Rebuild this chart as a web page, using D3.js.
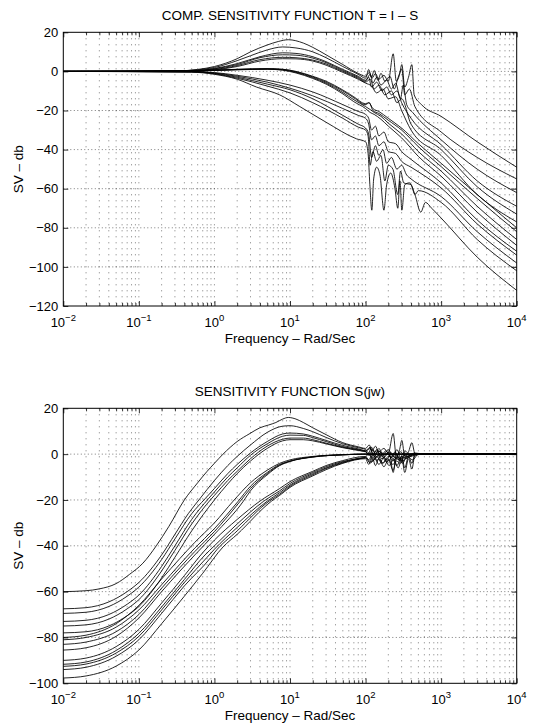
<!DOCTYPE html>
<html><head><meta charset="utf-8">
<script src="https://cdn.jsdelivr.net/npm/d3@7"></script>
<style>
body{margin:0;background:#fff}
svg{display:block}
text{font-family:"Liberation Sans",Arial,Helvetica,sans-serif;fill:#000}
</style>
</head><body>
<svg id="c" width="536" height="727"></svg>
<script>
// ---------- tick values / labels ----------
const freqMajor = [1e-2, 1e-1, 1e0, 1e1, 1e2, 1e3, 1e4];
const freqExp = ["\u22122", "\u22121", "0", "1", "2", "3", "4"];
const tTicks = [-120, -100, -80, -60, -40, -20, 0, 20];
const sTicks = [-100, -80, -60, -40, -20, 0, 20];

// ---------- complementary sensitivity T = I - S  ([rad/s, dB]) ----------
const tUpper = [
 [[0.01,0],[0.3,0.2],[0.6,1],[1,2.5],[2,6.5],[3,10],[5,13.5],[7,15.3],[9.5,16.2],[15,14.5],[20,12.3],[30,8.5],[50,3.5],[80,-1],[100,-2.5],[112,-0.5],[122,-3.5],[135,-1],[150,-4],[175,-2],[200,-5],[232,9],[255,-5],[280,-2],[302,3.5],[330,-8],[370,-3],[410,3.5],[440,-12],[550,-17],[1000,-23],[3000,-36],[10000,-49]],
 [[0.01,0],[0.3,0.2],[0.6,0.8],[1,2],[2,5.5],[3,8],[5,11],[8,12.5],[12,12],[20,10],[30,7],[50,2.5],[80,-1.5],[100,-3.5],[110,1],[120,-3],[130,0.5],[145,-4.5],[160,-1],[180,-5],[210,-2.5],[240,-9],[270,-3],[302,1],[330,-12],[380,-9],[450,-18],[1000,-31],[3000,-44],[10000,-55]],
 [[0.01,0],[0.4,0.2],[1,1.5],[2,4],[4,7.5],[8,9.5],[12,9.2],[20,7.5],[30,5],[50,1],[80,-2.5],[100,-4.5],[115,-1.5],[125,-6],[140,-3],[160,-7],[190,-4.5],[220,-9],[250,-6],[290,-14],[315,-7],[350,-17],[420,-21],[1000,-35],[3000,-50],[10000,-62]],
 [[0.01,0],[0.4,0.2],[1,1.3],[2,3.5],[4,7],[8,8.5],[12,8.3],[20,6.8],[30,4.5],[50,0.5],[80,-3],[100,-5],[110,-3],[120,-8],[140,-5.5],[165,-10],[190,-8],[220,-12],[260,-10],[300,-16],[400,-24],[1000,-37.5],[3000,-56],[10000,-69]],
 [[0.01,0],[0.4,0.2],[1,1],[2,3],[4,6],[8,7.2],[12,7],[20,5.8],[30,3.8],[50,0],[80,-3.5],[100,-5.5],[115,-4],[130,-9],[150,-7],[180,-12],[220,-10],[260,-16],[300,-14],[400,-27],[1000,-40],[3000,-59],[10000,-73]],
 [[0.01,0],[0.4,0.1],[1,0.8],[2,2.5],[4,5.3],[8,6.5],[12,6.4],[20,5.3],[30,3.2],[50,-0.5],[80,-4],[100,-6],[120,-7.5],[140,-11],[170,-9],[200,-14],[250,-13],[300,-20],[400,-30],[1000,-43],[3000,-63],[10000,-77]]
];
const tMiddle = [
 [[0.01,0],[0.5,0.2],[1,0.6],[2,1.1],[5,1.4],[8,1.1],[12,0],[20,-2.5],[30,-5],[50,-9.5],[70,-13],[100,-16.5],[110,-16],[125,-19],[150,-20.5],[200,-24],[300,-29],[500,-37],[1000,-47],[3000,-63],[10000,-80]],
 [[0.01,0],[0.5,0.2],[1,0.6],[2,1],[5,1.3],[8,1],[12,-0.2],[20,-2.8],[30,-5.5],[50,-10],[70,-13.5],[100,-17],[112,-16],[125,-20],[150,-21.5],[200,-25],[300,-30],[500,-38.5],[1000,-48.7],[3000,-65],[10000,-82]],
 [[0.01,0],[0.5,0.2],[1,0.5],[2,0.9],[5,1.2],[8,0.8],[12,-0.5],[20,-3.2],[30,-6],[50,-10.8],[70,-14.5],[100,-18],[115,-19.5],[130,-21],[160,-23],[200,-26.5],[300,-32],[500,-41],[1000,-51],[3000,-69],[10000,-86]],
 [[0.01,0],[0.5,0.2],[1,0.5],[2,0.8],[5,1.1],[8,0.6],[12,-0.8],[20,-3.6],[30,-6.5],[50,-11.5],[70,-15.5],[100,-19],[115,-21],[130,-22],[160,-24.5],[200,-28],[300,-34],[500,-43.5],[1000,-53.6],[3000,-72],[10000,-89]]
];
const tLower = [
 [[0.01,0],[0.5,-0.1],[1,-0.6],[2,-2],[5,-4.5],[10,-7],[20,-10.5],[50,-17],[80,-20.5],[100,-22],[110,-24],[120,-30],[135,-28],[150,-33],[175,-31],[200,-36],[250,-37],[300,-41],[400,-45],[1000,-57],[3000,-76],[10000,-92]],
 [[0.01,0],[0.5,-0.15],[1,-0.8],[2,-2.5],[5,-5.5],[10,-8.6],[20,-12.5],[50,-19],[80,-22.5],[100,-24],[110,-27],[120,-35],[135,-33],[150,-38],[175,-36],[200,-41],[250,-42],[300,-46],[400,-49],[1000,-59.6],[3000,-78],[10000,-94]],
 [[0.01,0],[0.5,-0.2],[1,-1],[2,-3],[5,-6.5],[10,-9.4],[20,-14],[50,-22.5],[80,-27],[100,-29],[110,-32],[120,-44],[135,-38],[150,-43],[170,-40],[190,-47],[220,-44],[260,-50],[300,-48],[350,-53],[400,-55],[1000,-64],[3000,-82],[10000,-98]],
 [[0.01,0],[0.5,-0.25],[1,-1.2],[2,-3.5],[5,-7.5],[10,-11],[20,-16],[50,-24],[80,-28.5],[100,-30],[108,-33],[115,-48],[125,-41],[140,-46],[160,-43],[180,-56],[200,-48],[230,-50],[267,-63],[290,-51],[320,-57],[400,-58],[450,-63],[500,-61],[1000,-67],[3000,-86],[10000,-102]],
 [[0.01,0],[0.5,-0.4],[1,-1.5],[2,-4],[3.6,-8],[7.3,-12],[13.5,-18],[30,-26],[76,-34.5],[100,-36],[108,-42],[114,-58],[121,-71],[128,-55],[140,-49],[155,-53],[175,-71],[190,-58],[215,-52],[245,-60],[267,-70],[285,-56],[302,-71],[330,-58],[380,-57],[450,-63],[537,-72],[620,-67],[750,-70],[1000,-75],[3000,-95],[10000,-112]]
];

// ---------- sensitivity S(jw)  ([rad/s, dB]) ----------
const sUpper = [
 [[0.01,-60],[0.02,-59.6],[0.03,-58.8],[0.05,-56.5],[0.075,-52.5],[0.113,-47.6],[0.17,-40],[0.25,-31.5],[0.4,-20],[0.6,-12.5],[0.8,-7.5],[1,-4],[1.3,0],[2,5.5],[2.95,9],[4,11.5],[5.2,12.7],[6.5,13.8],[8,15.3],[9.5,16],[12,15.3],[15,13.8],[20,11.5],[30,8.5],[50,5],[80,3.2],[100,2.5],[112,4],[122,1.5],[135,3.5],[150,1],[175,2.5],[200,0.5],[232,9],[255,-1],[280,1.5],[302,6],[330,-1],[370,1],[410,5],[450,0.3],[600,0],[10000,0]],
 [[0.01,-67.5],[0.02,-67],[0.04,-64.5],[0.07,-60],[0.1,-56],[0.2,-44],[0.3,-35],[0.45,-26],[0.64,-19.5],[1,-11.5],[1.5,-5],[2,-1],[3,4],[5,9.5],[8,12.2],[10,12.4],[15,11.2],[20,9.8],[30,7.3],[50,4.5],[80,2.8],[100,2],[110,0.5],[120,3],[135,0],[150,2.5],[170,-0.5],[200,2],[232,-1],[260,2],[302,-3],[330,1.5],[380,0],[450,0.5],[600,0],[10000,0]],
 [[0.01,-69.5],[0.02,-69],[0.04,-66.5],[0.07,-62],[0.1,-58],[0.2,-46],[0.3,-37],[0.5,-26],[0.75,-19.5],[1,-15],[1.5,-8.5],[2,-4.5],[3,0.5],[5,5.5],[8,8.8],[10,9.2],[15,8.8],[20,7.8],[30,6],[50,3.8],[80,2.3],[100,1.5],[115,3],[125,-0.5],[140,2],[160,-1],[185,1.5],[215,-1.5],[245,1],[280,-2],[320,0.5],[400,-0.5],[500,0],[10000,0]],
 [[0.01,-73],[0.02,-72.5],[0.04,-70],[0.07,-65.5],[0.1,-61.5],[0.2,-49],[0.3,-40],[0.5,-28.5],[0.83,-19.5],[1,-16.5],[1.5,-10],[2,-6],[3,-0.5],[5,4.5],[8,7.8],[10,8.3],[15,8.2],[20,7.2],[30,5.5],[50,3.3],[80,2],[100,1.3],[110,-0.5],[125,2],[140,-1.5],[160,1],[190,-2.5],[220,0.5],[250,-2],[290,1],[340,-1],[450,0],[10000,0]],
 [[0.01,-75],[0.02,-74.5],[0.04,-72],[0.07,-67.5],[0.1,-63.5],[0.2,-51],[0.3,-42],[0.5,-30.5],[0.91,-19.5],[1,-18],[1.5,-11.5],[2,-7.5],[3,-2],[5,3.5],[8,6.5],[10,7],[15,7],[20,6.3],[30,4.8],[50,3],[80,1.8],[100,1.2],[115,2.5],[130,-1],[150,1.5],[175,-1.5],[205,1],[232,-8],[255,0],[280,-3],[302,-1],[330,-6],[370,-1],[410,-4],[450,0],[600,0],[10000,0]],
 [[0.01,-78],[0.02,-77.5],[0.04,-75],[0.07,-70.5],[0.1,-66.5],[0.2,-54],[0.3,-45],[0.5,-33.5],[1,-20],[1.5,-13],[2,-8.5],[3,-3],[5,2.5],[8,5.8],[10,6.3],[15,6.3],[20,5.8],[30,4.5],[50,2.8],[80,1.6],[100,1],[120,-1],[140,1.5],[165,-2],[195,0.5],[230,-3],[270,-1],[310,-4],[350,-1],[420,-2.5],[500,0],[10000,0]]
];
const sMiddle = [
 [[0.01,-80],[0.02,-79],[0.05,-74],[0.1,-66],[0.2,-54.5],[0.35,-45.5],[0.55,-38.5],[1,-30],[1.77,-20.5],[3,-12.5],[5,-7],[7.3,-4],[10,-2.5],[20,-1],[50,-0.2],[100,0],[10000,0]],
 [[0.01,-81],[0.02,-80],[0.05,-75.5],[0.1,-68],[0.2,-57],[0.35,-48],[0.55,-41],[1,-32.5],[2.07,-20.5],[3,-14],[5,-8],[7.3,-4.5],[10,-3],[20,-1.2],[50,-0.3],[100,0],[10000,0]],
 [[0.01,-83],[0.02,-82],[0.05,-77.5],[0.1,-70],[0.2,-58.5],[0.35,-49.5],[0.55,-42.5],[1,-33.8],[2.2,-20.5],[3,-15],[5,-8.5],[7.3,-4.8],[10,-3.1],[20,-1.2],[50,-0.3],[100,0],[10000,0]],
 [[0.01,-85.5],[0.02,-84.5],[0.05,-79.5],[0.1,-71.5],[0.2,-60],[0.35,-51],[0.55,-44],[1,-35],[2.42,-20.5],[3,-16],[5,-9],[7.3,-5],[10,-3.2],[20,-1.3],[50,-0.3],[100,0],[10000,0]]
];
const sLower = [
 [[0.01,-90],[0.02,-89],[0.05,-84],[0.1,-76.5],[0.2,-65],[0.4,-53],[0.7,-43],[1,-37.5],[2,-28.5],[4,-20.5],[7.3,-15],[10,-12],[20,-7.5],[30,-5],[50,-2.8],[100,-1],[110,-2.5],[125,0.5],[140,-3],[160,-0.5],[190,-3.5],[230,-1],[280,-2.5],[330,-0.5],[450,0],[10000,0]],
 [[0.01,-91.7],[0.02,-90.7],[0.05,-85.7],[0.1,-78.2],[0.2,-66.7],[0.4,-54.7],[0.75,-44],[1,-40],[2,-30.5],[4.5,-20.5],[7.3,-16],[10,-12.8],[20,-8],[30,-5.5],[50,-3.2],[100,-1.3],[112,0.5],[125,-3],[145,-0.5],[170,-4],[200,-1],[232,-2],[260,-5],[300,-1],[340,-2],[450,0],[10000,0]],
 [[0.01,-92.6],[0.02,-91.6],[0.05,-86.8],[0.1,-79.5],[0.2,-68],[0.4,-56],[0.8,-45],[1,-41.5],[2,-32],[5,-20.5],[7.3,-16.8],[10,-13.5],[20,-8.5],[30,-6],[50,-3.5],[100,-1.5],[115,-4],[130,-1],[150,-4.5],[175,-1.5],[205,-5],[235,-2],[270,-6],[302,-2],[330,-8],[370,-2],[410,-6.5],[450,-0.5],[600,0],[10000,0]],
 [[0.01,-94],[0.02,-93],[0.05,-88.2],[0.1,-81],[0.2,-69.5],[0.4,-57.5],[0.9,-45],[1,-43],[2,-33.5],[5.3,-20.5],[7.3,-17.5],[10,-14],[20,-9],[30,-6.3],[50,-3.8],[100,-1.7],[120,-3.5],[140,-1],[165,-4],[195,-2],[230,-4.5],[270,-1.5],[310,-3],[360,-1],[450,0],[10000,0]],
 [[0.01,-97.7],[0.02,-96.8],[0.05,-92.5],[0.1,-85.5],[0.2,-74],[0.4,-62],[0.7,-52],[1.3,-40.5],[2,-35],[5.7,-20.5],[7.3,-18],[10,-14.5],[20,-9.5],[30,-6.8],[50,-4],[100,-2],[110,-4.5],[122,-1],[135,-5],[150,-2],[175,-5.5],[200,-2.5],[232,-7],[255,-3],[290,-4],[320,-1.5],[400,-1],[500,0],[10000,0]]
];

// ---------- drawing ----------
const svg = d3.select("#c");
const X0 = 63.3, X1 = 516.7;
const x = d3.scaleLog().domain([1e-2, 1e4]).range([X0, X1]);
const minorFreq = x.ticks().filter(f => !freqMajor.some(m => Math.abs(m - f) / m < 1e-9));

function panel(o) {
  const y = d3.scaleLinear().domain([o.ticks[0], o.ticks[o.ticks.length - 1]]).range([o.bottom, o.top]);
  const g = svg.append("g");
  // grid
  const grid = g.append("g").attr("stroke", "#000").attr("stroke-width", 0.7).attr("stroke-opacity", 0.75);
  grid.selectAll("line.v").data(x.ticks().filter(f => f > 1e-2 && f < 1e4)).join("line")
    .attr("x1", d => x(d)).attr("x2", d => x(d)).attr("y1", o.top).attr("y2", o.bottom)
    .attr("stroke-dasharray", "1,5");
  grid.selectAll("line.h").data(o.ticks.slice(1, -1)).join("line")
    .attr("x1", X0).attr("x2", X1).attr("y1", d => y(d)).attr("y2", d => y(d))
    .attr("stroke-dasharray", "1,2.5");
  // curves
  const line = d3.line().x(d => x(d[0])).y(d => y(d[1])).curve(d3.curveMonotoneX);
  const cg = g.append("g").attr("fill", "none").attr("stroke", "#000").attr("stroke-width", 0.85);
  o.curves.forEach(c => cg.append("path").attr("d", line(c)));
  // tick marks (inward) via d3 axes
  const strip = s => s.call(a => a.select(".domain").remove());
  g.append("g").attr("transform", `translate(0,${o.bottom})`).call(d3.axisTop(x).tickValues(freqMajor).tickSize(5).tickFormat("")).call(strip);
  g.append("g").attr("transform", `translate(0,${o.bottom})`).call(d3.axisTop(x).tickValues(minorFreq).tickSize(3).tickFormat("")).call(strip);
  g.append("g").attr("transform", `translate(0,${o.top})`).call(d3.axisBottom(x).tickValues(freqMajor).tickSize(5).tickFormat("")).call(strip);
  g.append("g").attr("transform", `translate(0,${o.top})`).call(d3.axisBottom(x).tickValues(minorFreq).tickSize(3).tickFormat("")).call(strip);
  g.append("g").attr("transform", `translate(${X0},0)`).call(d3.axisRight(y).tickValues(o.ticks).tickSize(5).tickFormat("")).call(strip);
  g.append("g").attr("transform", `translate(${X1},0)`).call(d3.axisLeft(y).tickValues(o.ticks).tickSize(5).tickFormat("")).call(strip);
  g.selectAll(".tick line").attr("stroke", "#000").attr("stroke-width", 0.8);
  // frame
  g.append("rect").attr("x", X0).attr("y", o.top).attr("width", X1 - X0).attr("height", o.bottom - o.top)
    .attr("fill", "none").attr("stroke", "#000").attr("stroke-width", 1);
  // y labels
  g.selectAll("text.yl").data(o.ticks).join("text")
    .attr("x", X0 - 5).attr("y", d => y(d) + 4.6).attr("text-anchor", "end").attr("font-size", 13)
    .text(d => d < 0 ? "\u2212" + Math.abs(d) : String(d));
  // x labels
  freqMajor.forEach((f, i) => {
    const t = g.append("text").attr("x", x(f)).attr("y", o.bottom + 21).attr("text-anchor", "middle").attr("font-size", 13);
    t.append("tspan").text("10");
    t.append("tspan").attr("dy", -6.5).attr("font-size", 9.5).text(freqExp[i]);
  });
  // titles
  g.append("text").attr("x", (X0 + X1) / 2).attr("y", o.top - 12).attr("text-anchor", "middle").attr("font-size", 13.5).text(o.title);
  g.append("text").attr("x", (X0 + X1) / 2).attr("y", o.bottom + 37).attr("text-anchor", "middle").attr("font-size", 13.5).text("Frequency \u2013 Rad/Sec");
  g.append("text").attr("transform", `translate(22.5,${(o.top + o.bottom) / 2}) rotate(-90)`).attr("text-anchor", "middle").attr("font-size", 13.5).text("SV \u2013 db");
}

panel({top: 32.3, bottom: 306, ticks: tTicks, curves: [...tUpper, ...tMiddle, ...tLower], title: "COMP. SENSITIVITY FUNCTION T = I \u2013 S"});
panel({top: 408.3, bottom: 683.3, ticks: sTicks, curves: [...sUpper, ...sMiddle, ...sLower], title: "SENSITIVITY FUNCTION S(jw)"});
</script>
</body></html>
